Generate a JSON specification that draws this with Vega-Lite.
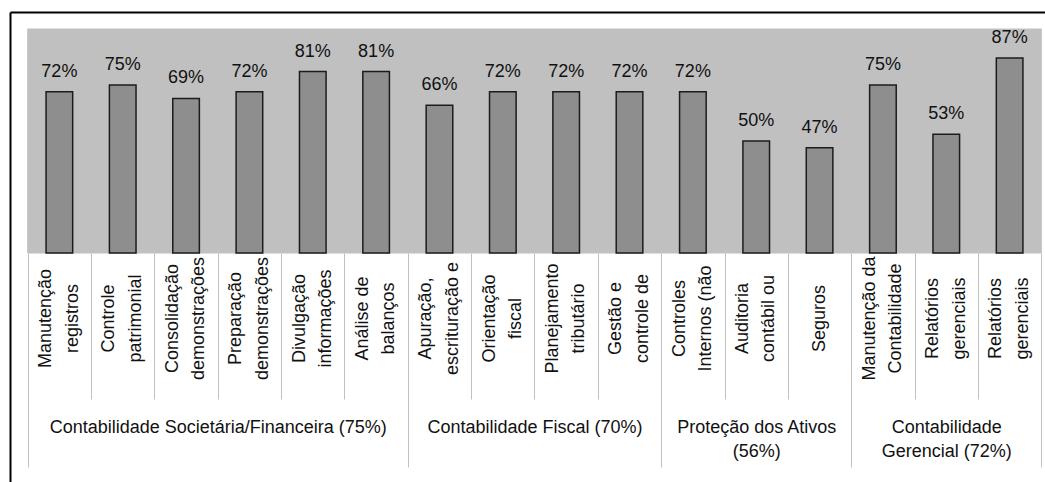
{
  "$schema": "https://vega.github.io/schema/vega-lite/v6.json",
  "autosize": "none",
  "padding": {"left": 10, "top": 12, "right": 0, "bottom": 0},
  "width": 1035,
  "height": 470,
  "background": "white",
  "config": {"view": {"stroke": null}, "font": "Liberation Sans", "axis": {"grid": false}},
  "data": {"values": [
    {"cat": "Manutenção|registros", "value": 0.72},
    {"cat": "Controle|patrimonial", "value": 0.75},
    {"cat": "Consolidação|demonstrações", "value": 0.69},
    {"cat": "Preparação|demonstrações", "value": 0.72},
    {"cat": "Divulgação|informações", "value": 0.81},
    {"cat": "Análise de|balanços", "value": 0.81},
    {"cat": "Apuração,|escrituração e", "value": 0.66},
    {"cat": "Orientação|fiscal", "value": 0.72},
    {"cat": "Planejamento|tributário", "value": 0.72},
    {"cat": "Gestão e|controle de", "value": 0.72},
    {"cat": "Controles|Internos (não", "value": 0.72},
    {"cat": "Auditoria|contábil ou", "value": 0.50},
    {"cat": "Seguros", "value": 0.47},
    {"cat": "Manutenção da|Contabilidade", "value": 0.75},
    {"cat": "Relatórios|gerenciais", "value": 0.53},
    {"cat": "Relatórios|gerenciais ", "value": 0.87}
  ]},
  "resolve": {"axis": {"x": "independent", "y": "independent"}},
  "layer": [
    {
      "mark": {"type": "rect", "fill": "#c0c0c0", "stroke": "#c0c0c0", "strokeWidth": 1},
      "encoding": {
        "x": {"field": "cat", "type": "nominal", "sort": null,
          "scale": {"paddingInner": 0, "paddingOuter": 0.1689, "align": 0.827},
          "axis": {"orient": "top", "domain": true, "domainColor": "#000000", "domainWidth": 2, "ticks": false, "labels": false, "title": null}},
        "y": {"datum": 0, "type": "quantitative",
          "scale": {"domain": [-1.0223, 1.0759], "nice": false, "zero": false}, "axis": null},
        "y2": {"datum": 1}
      }
    },
    {
      "mark": {"type": "bar", "fill": "#8e8e8e", "stroke": "#1c1c1c", "strokeWidth": 1.5, "width": {"band": 0.42}},
      "encoding": {
        "x": {"field": "cat", "type": "nominal", "sort": null,
          "axis": {"orient": "bottom", "offset": -229, "domain": false, "ticks": false, "tickSize": 0,
            "labelExpr": "split(datum.label, '|')", "labelAngle": -90, "labelAlign": "center", "labelBaseline": "middle",
            "labelOffset": {"condition": {"test": "indexof(datum.value, '|') >= 0", "value": -13.25}, "value": 0},
            "labelPadding": 65, "labelLineHeight": 26.5, "labelFontSize": 18, "labelColor": "#111111",
            "labelLimit": 400, "labelOverlap": false, "title": null}},
        "y": {"field": "value", "type": "quantitative",
          "scale": {"domain": [-1.0223, 1.0759], "nice": false, "zero": false},
          "axis": {"orient": "left", "domain": true, "domainColor": "#000000", "domainWidth": 2, "domainOpacity": 1, "ticks": false, "labels": false, "grid": false, "tickCount": 2, "title": null}}
      }
    },
    {
      "mark": {"type": "text", "fontSize": 18, "color": "#111111", "baseline": "alphabetic", "align": "center", "dy": -15},
      "encoding": {
        "x": {"field": "cat", "type": "nominal", "sort": null,
          "axis": {"orient": "bottom", "offset": -229, "domain": false, "ticks": true, "tickBand": "extent",
            "tickColor": "#c0c0c0", "tickWidth": 1,
            "tickSize": {"condition": {"test": "datum.index < 0 || datum.value === 'Análise de|balanços' || datum.value === 'Gestão e|controle de' || datum.value === 'Seguros' || datum.value === 'Relatórios|gerenciais '", "value": 214}, "value": 146},
            "labelExpr": "datum.value === 'Consolidação|demonstrações' ? ['Contabilidade Societária/Financeira (75%)'] : datum.value === 'Orientação|fiscal' ? ['Contabilidade Fiscal (70%)'] : datum.value === 'Auditoria|contábil ou' ? ['Proteção dos Ativos', '(56%)'] : datum.value === 'Relatórios|gerenciais' ? ['Contabilidade', 'Gerencial (72%)'] : ''",
            "labelOffset": {"condition": {"test": "datum.value === 'Consolidação|demonstrações' || datum.value === 'Orientação|fiscal'", "value": 31.7}, "value": 0},
            "labelAngle": 0, "labelAlign": "center", "labelBaseline": "top", "labelPadding": 19.5, "labelLineHeight": 23.5,
            "labelFontSize": 18, "labelColor": "#111111", "labelLimit": 600, "labelOverlap": false, "labelFlush": false, "title": null}},
        "y": {"field": "value", "type": "quantitative",
          "scale": {"domain": [-1.0223, 1.0759], "nice": false, "zero": false}, "axis": null},
        "text": {"field": "value", "type": "quantitative", "format": ".0%"}
      }
    }
  ]
}
